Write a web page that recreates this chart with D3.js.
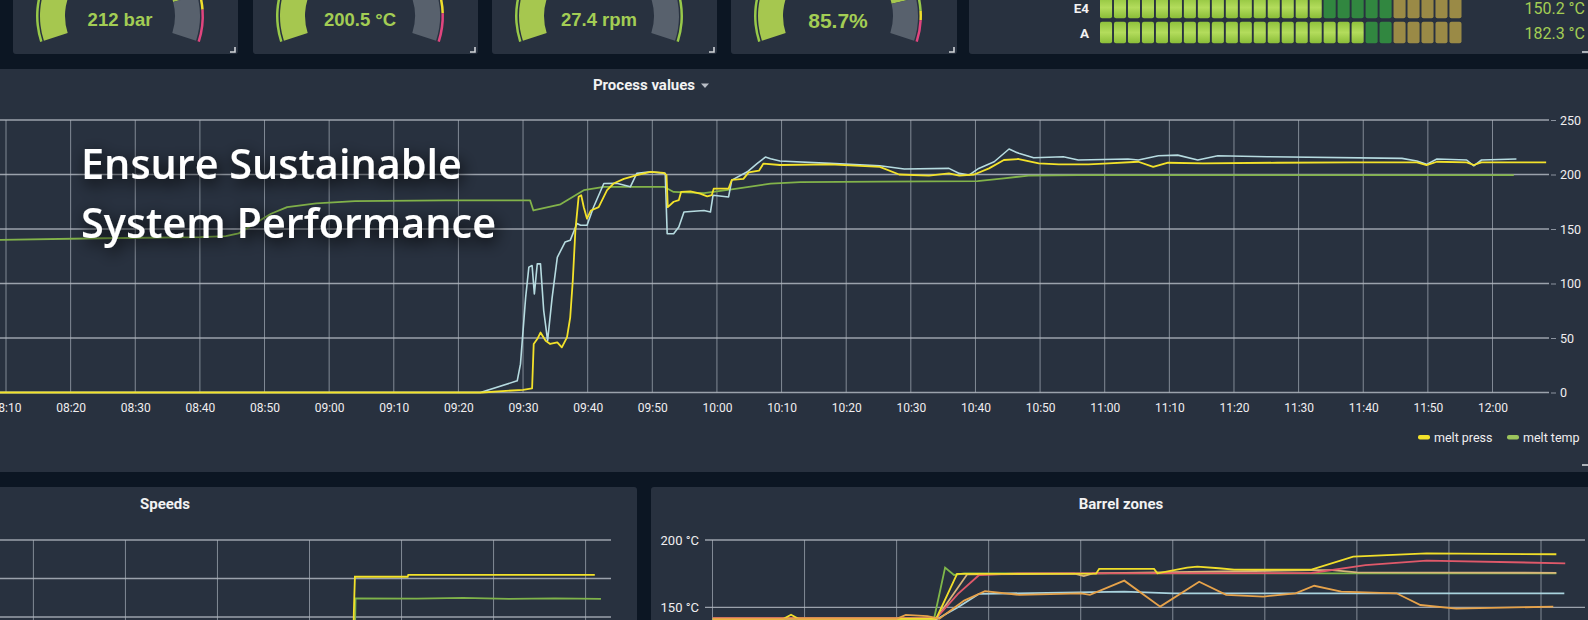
<!DOCTYPE html>
<html><head><meta charset="utf-8">
<script src="https://cdn.jsdelivr.net/npm/d3@7"></script>
<style>
html,body{margin:0;padding:0;background:#0c1623;overflow:hidden;}
svg{display:block;font-family:Roboto,"Liberation Sans",sans-serif;}
</style></head><body>
<svg id="c" width="1588" height="620"></svg>
<script>
// ---------------- DATA ----------------
// Gauges (top row)
const gaugeLabels = ["212 bar", "200.5 °C", "27.4 rpm", "85.7%"];
const gaugeValues = [212, 200.5, 27.4, 85.7];
const gaugeMax    = [250, 250, 40, 100];
const gaugeWarn   = [215, 205, 40, 90];
const gaugeAlarm  = [224, 227, 40, 93];

// Segment bar gauges (top right)
const barRows   = ["E4", "A"];
const barValues = [150.2, 182.3];
const barLabels = ["150.2 °C", "182.3 °C"];
const barMax = 250, barWarn = 200, barSegments = 26;

// Process values chart
const processTitle = "Process values";
const mainYTicks = [0, 50, 100, 150, 200, 250];
const meltTemp = [["08:09",140],["08:25",141.5],["08:40",142.5],["08:44",143.5],["08:46",146],["08:48.5",155],
 ["08:51",164],["08:53.5",170],["08:58",173.5],["09:04",175.5],["09:18",176.3],["09:31.1",176.2],["09:31.6",167],
 ["09:35.8",172.7],["09:39.4",185.6],["09:42.5",188.7],["09:51.8",188.7],["09:53.3",184],["09:58",183],
 ["10:03.1",187],["10:08.3",191.7],["10:12.9",193],["10:25",193.5],["10:40.3",194],["10:44.4",196.5],
 ["10:48.2",199],["10:55.9",199.5],["12:03.3",199.5]];
const meltPress = [["08:09",0],["09:23.6",0],["09:30",2.5],["09:31.4",3.7],["09:31.65",44.5],["09:32.2",49],
 ["09:32.7",55],["09:33.5",47.5],["09:34.2",44.5],["09:35.3",46],["09:36",41.4],["09:36.8",50.6],["09:37.3",69],
 ["09:37.7",103],["09:38.1",149],["09:38.6",179.5],["09:39",181],["09:39.4",170],["09:39.9",159.5],["09:40.5",167],
 ["09:41.7",170],["09:43",185.6],["09:44",191.7],["09:45.6",196],["09:47.6",199.4],["09:49.7",202.5],["09:51.8",201.5],
 ["09:52.2",199.4],["09:52.4",170],["09:53.3",175],["09:54.1",176.5],["09:54.45",184],["09:55.9",184.5],["09:57.4",182.5],
 ["09:58.5",180],["09:59.2",181],["09:59.5",187],["10:01.8",187],["10:02.3",195],["10:04.1",196],["10:04.9",202],
 ["10:06.5",203.5],["10:07.2",210],["10:09.75",208.7],["10:17.5",209.3],["10:25.2",207],["10:28.2",200],["10:32.8",198.9],
 ["10:35.9",201],["10:37.5",199],["10:39.8",200],["10:42.1",205.6],["10:44.4",213.3],["10:46.7",214.2],["10:49.8",210.2],
 ["10:52.9",209.3],["10:57.5",209.3],["11:00.6",210.2],["11:05.2",211.7],["11:07.5",207],["11:09.8",210.8],["11:15.2",210.2],
 ["11:26.7",210.8],["11:38.3",211.1],["11:48.3",211.1],["11:49.8",208.7],["11:51.4",211.7],["11:56",211.1],["11:57.1",208.7],
 ["11:58.3",211.1],["12:08.3",211.1]];
const pressRef = [["08:09",0],["09:23.4",0],["09:29.1",10.7],["09:29.6",26],["09:30.4",87],["09:30.9",115],["09:31.4",116.5],
 ["09:31.75",90.5],["09:32.2",118],["09:32.7",118],["09:33.2",75],["09:33.8",47.5],["09:34.5",87],["09:35.3",124],
 ["09:36.5",138],["09:37.3",139.6],["09:38.35",155],["09:38.9",153.4],["09:39.9",153.4],["09:40.9",170],["09:42.5",191.7],
 ["09:44.5",192],["09:46.6",188.7],["09:47.6",201],["09:49.7",202.5],["09:52",201],["09:52.3",145.7],["09:53.3",145.7],
 ["09:54.1",151.8],["09:54.9",165.6],["09:58",167],["09:59",165.6],["09:59.4",181],["10:01.8",179.4],["10:02.3",194.8],
 ["10:04.7",202.5],["10:06.2",210],["10:07.5",216],["10:08.3",214.5],["10:09.75",212.4],["10:17.5",210.2],["10:25.2",208],
 ["10:29",205],["10:35.9",205.6],["10:37.5",201],["10:39",199.5],["10:40.5",205.6],["10:42.9",211.7],["10:45.2",223.4],
 ["10:46.7",219.4],["10:49",215.4],["10:53.6",216.3],["10:55.9",213.3],["11:03.6",214.2],["11:05.2",213.3],["11:08.3",217.2],
 ["11:11.3",217.8],["11:14.4",213.3],["11:17.5",217.2],["11:25.2",216.3],["11:46",214.8],["11:48.3",212.4],["11:49.8",209.3],
 ["11:51.4",214.2],["11:56",213.3],["11:57.1",208],["11:58.3",213.3],["12:03.7",214.2]];
const legendNames = ["melt press", "melt temp"];

// Speeds chart
const speedsTitle = "Speeds";
const speedTicks = [20, 40, 60];
const speedYellow = [["05:30",0],["09:28.5",0],["09:28.9",22],["09:29.6",40.9],["10:04",40.9],["10:04.4",41.9],["12:06",41.9]];
const speedGreen  = [["05:30",0],["09:29.4",0],["09:30",29.7],["10:10",29.5],["10:40",29.9],["11:10",29.4],["11:40",29.7],["12:10",29.4]];

// Barrel zones chart
const barrelTitle = "Barrel zones";
const barrelTicks = [150, 200];
const zoneGreen  = [["07:30",141.5],["08:42.2",141.5],["08:45.8",179.5],["08:48.7",174],["08:52",175.2],["12:05",175.2]];
const zoneYellow = [["07:30",141.3],["07:53",141.3],["07:55.6",144.5],["07:58",141.5],["08:42.9",141.5],["08:49.7",174.8],
 ["09:35",175],["09:36",178.5],["09:53.9",178.5],["09:55",175.2],["10:04.7",179.5],["10:08",180.2],["10:15",179],["10:20",178],
 ["10:45.2",178],["10:58.8",187.6],["11:22.7",190],["12:05",189.4]];
const zoneRed    = [["07:30",142],["08:42.9",142],["08:50",160],["08:56.9",174],["09:10",175.2],["10:45.2",175.5],
 ["11:02.8",181.4],["11:22.7",184.7],["12:07.9",182.7]];
const zoneCyan   = [["07:30",141],["08:42.9",141],["08:50",150],["08:56.9",160],["09:44.2",161.6],["10:00",160.4],["12:07.6",160.4]];
const zoneOrange = [["07:30",141.5],["08:30",141.5],["08:33",144.3],["08:40",143.5],["08:43.9",141.5],["08:52",155],
 ["08:58.8",162],["09:10",159.2],["09:30.1",160.4],["09:33",159.2],["09:44.2",169.8],["09:55.9",150.5],["10:08.6",169],
 ["10:17.4",159.2],["10:29.5",158],["10:40",160.4],["10:46.1",166],["10:54.9",161.6],["11:12.9",160.4],["11:20.7",151.7],
 ["11:32.4",149],["12:04",150.5]];
const zoneTan    = [["07:30",141.8],["08:43",141.8],["08:53",174.5],["09:28",175],["09:31",173.2],["09:34",175.2],
 ["10:45",177.6],["10:52",177.6],["11:00",176],["12:05",175.6]];

const overlayLines = ["Ensure Sustainable", "System Performance"];

// ---------------- HELPERS ----------------
const T = s => { const [h, m] = s.split(":"); return new Date(2021, 0, 1, +h, 0, 0, Math.round(parseFloat(m) * 60000)); };
const C = { panel: "#28313f", grid: "#98a0ab", text: "#f0eef0", green: "#a3cd54" };
const svg = d3.select("#c");
const defs = svg.append("defs");

// ---------------- PANELS ----------------
[[13,225],[253,225],[492,225],[731,226],[969,640]].forEach(([x,w]) =>
  svg.append("rect").attr("x",x).attr("y",-10).attr("width",w).attr("height",64).attr("rx",3).attr("fill",C.panel));
svg.append("rect").attr("x",-5).attr("y",69).attr("width",1600).attr("height",403).attr("rx",3).attr("fill",C.panel);
svg.append("rect").attr("x",-5).attr("y",487).attr("width",642).attr("height",200).attr("rx",3).attr("fill",C.panel);
svg.append("rect").attr("x",651).attr("y",487).attr("width",960).attr("height",200).attr("rx",3).attr("fill",C.panel);

// resize handles
[238,478,717,957].forEach(x1 => svg.append("path").attr("d",`M${x1-8},52H${x1-3}V47`).attr("fill","none").attr("stroke","#cfd3d8").attr("stroke-width",1.6));
svg.append("path").attr("d","M1582,52H1588").attr("stroke","#cfd3d8").attr("stroke-width",1.6);
svg.append("path").attr("d","M1582,465H1588").attr("stroke","#cfd3d8").attr("stroke-width",1.6);

// ---------------- GAUGES ----------------
const gaugePanelX = [13, 253, 492, 731];
gaugeLabels.forEach((lab, i) => {
  const g = svg.append("g").attr("transform", `translate(${gaugePanelX[i]+107},16)`);
  const a = d3.scaleLinear().domain([0, gaugeMax[i]]).range([-108*Math.PI/180, 108*Math.PI/180]).clamp(true);
  const thick = d3.arc().innerRadius(55).outerRadius(80);
  g.append("path").attr("d", thick({startAngle:a(0), endAngle:a(gaugeValues[i])})).attr("fill", "#a6c74f");
  g.append("path").attr("d", thick({startAngle:a(gaugeValues[i]), endAngle:a(gaugeMax[i])})).attr("fill", "#58616d");
  const thin = d3.arc().innerRadius(81.5).outerRadius(84);
  [[0, gaugeWarn[i], "#98c94a"], [gaugeWarn[i], gaugeAlarm[i], "#f0de2c"], [gaugeAlarm[i], gaugeMax[i], "#e0457e"]]
    .filter(b => b[1] > b[0])
    .forEach(b => g.append("path").attr("d", thin({startAngle:a(b[0]), endAngle:a(b[1])})).attr("fill", b[2]));
  g.append("text").attr("y", i === 3 ? 12 : 10).attr("text-anchor","middle")
    .attr("font-family","'Liberation Sans',Arial,sans-serif").attr("font-weight","bold")
    .attr("font-size", i === 3 ? 21 : 18.5).attr("fill", C.green).text(lab);
});

// ---------------- SEGMENT BARS ----------------
const grad = defs.append("linearGradient").attr("id","segG").attr("x1",0).attr("x2",0).attr("y1",0).attr("y2",1);
grad.append("stop").attr("offset","0%").attr("stop-color","#8fc23c");
grad.append("stop").attr("offset","50%").attr("stop-color","#b3dc5c");
grad.append("stop").attr("offset","100%").attr("stop-color","#8abd38");
const segX = d3.scaleBand().domain(d3.range(barSegments)).range([1100, 1461.5]).paddingInner(0.137);
const rowY = d3.scaleBand().domain(barRows).range([-3.3, 43.3]).paddingInner(0.136);
const segStep = barMax / barSegments;
barRows.forEach((r, ri) => {
  svg.selectAll(null).data(d3.range(barSegments)).join("rect")
    .attr("x", d => segX(d)).attr("y", rowY(r)).attr("width", segX.bandwidth()).attr("height", rowY.bandwidth())
    .attr("rx", 2)
    .attr("fill", d => (d + 0.5) * segStep <= barValues[ri] ? "url(#segG)" : (d * segStep >= barWarn ? "#9a8a46" : "#318740"));
  svg.append("text").attr("x", 1089).attr("y", rowY(r) + rowY.bandwidth()/2 + 5).attr("text-anchor","end")
    .attr("font-weight","bold").attr("font-size",13.5).attr("fill","#f2f2f2").text(r);
  svg.append("text").attr("x", 1585).attr("y", rowY(r) + rowY.bandwidth()/2 + 6).attr("text-anchor","end")
    .attr("font-size",16).attr("fill",C.green).text(barLabels[ri]);
});

// ---------------- PROCESS VALUES ----------------
const xMain = d3.scaleTime().domain([T("08:10"), T("12:00")]).range([6, 1492.5]);
const yMain = d3.scaleLinear().domain([0, 250]).range([392.5, 120]);
const mainTicks = d3.timeMinute.every(10).range(T("08:10"), T("12:00.5"));
const gm = svg.append("g");
gm.selectAll(null).data(mainTicks).join("line")
  .attr("x1", d => xMain(d)).attr("x2", d => xMain(d)).attr("y1", yMain(250)).attr("y2", yMain(0))
  .attr("stroke", C.grid).attr("stroke-width", 1).attr("opacity", 0.8);
gm.selectAll(null).data(mainYTicks).join("line")
  .attr("x1", 0).attr("x2", 1549).attr("y1", d => yMain(d)).attr("y2", d => yMain(d))
  .attr("stroke", "#b0b6bf").attr("stroke-width", 1.3).attr("opacity", 0.85);

const xAxis = svg.append("g").attr("transform", `translate(0,${yMain(0)})`)
  .call(d3.axisBottom(xMain).tickValues(mainTicks).tickFormat(d3.timeFormat("%H:%M")).tickSize(0).tickPadding(11));
xAxis.select(".domain").remove();
xAxis.selectAll("text").attr("font-size", 12).attr("fill", C.text).attr("font-family", "Roboto,sans-serif");

const yAxis = svg.append("g").attr("transform", "translate(1551,0)")
  .call(d3.axisRight(yMain).tickValues(mainYTicks).tickSize(5).tickPadding(4));
yAxis.select(".domain").remove();
yAxis.selectAll("line").attr("stroke", "#8c94a0");
yAxis.selectAll("text").attr("font-size", 12.5).attr("fill", C.text).attr("font-family", "Roboto,sans-serif");

defs.append("clipPath").attr("id","clipMain").append("rect").attr("x",0).attr("y",70).attr("width",1549).attr("height",330);
const lineMain = d3.line().x(d => xMain(T(d[0]))).y(d => yMain(d[1]));
const lm = svg.append("g").attr("clip-path","url(#clipMain)").attr("fill","none").attr("stroke-linejoin","round");
lm.append("path").attr("d", lineMain(meltTemp)).attr("stroke", "#82b34a").attr("stroke-width", 1.8);
lm.append("path").attr("d", lineMain(pressRef)).attr("stroke", "#b6dbe0").attr("stroke-width", 1.6);
lm.append("path").attr("d", lineMain(meltPress)).attr("stroke", "#f3e22a").attr("stroke-width", 1.8);

svg.append("text").attr("x", 644).attr("y", 90).attr("text-anchor","middle").attr("font-weight","bold")
  .attr("font-size", 15).attr("fill", "#f2f2f2").text(processTitle);
svg.append("path").attr("d","M701,83.5h8l-4,4.5z").attr("fill","#b9bec6");

// legend
const legColors = ["#f3e22a", "#9cc45c"];
const legX = [1418, 1507];
legendNames.forEach((n, i) => {
  svg.append("rect").attr("x", legX[i]).attr("y", 435).attr("width", 12).attr("height", 4.5).attr("rx", 2).attr("fill", legColors[i]);
  svg.append("text").attr("x", legX[i] + 16).attr("y", 441.5).attr("font-size", 12.5)
    .attr("fill", C.text).text(n);
});

// ---------------- SPEEDS ----------------
const xSpd = d3.scaleTime().domain([T("06:00"), T("12:00")]).range([33.4, 585.6]);
const ySpd = d3.scaleLinear().domain([20, 60]).range([617, 540]);
const spdHours = d3.timeHour.every(1).range(T("06:00"), T("12:00.5"));
svg.selectAll(null).data(spdHours).join("line")
  .attr("x1", d => xSpd(d)).attr("x2", d => xSpd(d)).attr("y1", ySpd(60)).attr("y2", 625)
  .attr("stroke", C.grid).attr("opacity", 0.8);
svg.selectAll(null).data(speedTicks).join("line")
  .attr("x1", 0).attr("x2", 611).attr("y1", d => ySpd(d)).attr("y2", d => ySpd(d))
  .attr("stroke", "#b0b6bf").attr("stroke-width", 1.3).attr("opacity", 0.85);
defs.append("clipPath").attr("id","clipSpd").append("rect").attr("x",0).attr("y",520).attr("width",611).attr("height",110);
const lineSpd = d3.line().x(d => xSpd(T(d[0]))).y(d => ySpd(d[1]));
const ls = svg.append("g").attr("clip-path","url(#clipSpd)").attr("fill","none");
ls.append("path").attr("d", lineSpd(speedGreen)).attr("stroke", "#7fb34a").attr("stroke-width", 1.8);
ls.append("path").attr("d", lineSpd(speedYellow)).attr("stroke", "#f3e22a").attr("stroke-width", 1.8);
svg.append("text").attr("x", 165).attr("y", 509).attr("text-anchor","middle").attr("font-weight","bold")
  .attr("font-size", 15).attr("fill", "#f2f2f2").text(speedsTitle);

// ---------------- BARREL ZONES ----------------
const xBar = d3.scaleTime().domain([T("07:30"), T("12:00")]).range([712.5, 1541]);
const yBar = d3.scaleLinear().domain([150, 200]).range([607.3, 540]);
const barTimes = d3.timeMinute.every(30).range(T("07:30"), T("12:00.5"));
svg.selectAll(null).data(barTimes).join("line")
  .attr("x1", d => xBar(d)).attr("x2", d => xBar(d)).attr("y1", yBar(200)).attr("y2", 625)
  .attr("stroke", C.grid).attr("opacity", 0.8);
svg.selectAll(null).data(barrelTicks).join("line")
  .attr("x1", 705).attr("x2", 1585).attr("y1", d => yBar(d)).attr("y2", d => yBar(d))
  .attr("stroke", "#b0b6bf").attr("stroke-width", 1.3).attr("opacity", 0.85);
svg.selectAll(null).data(barrelTicks).join("text")
  .attr("x", 699).attr("y", d => yBar(d) + 4.5).attr("text-anchor","end").attr("font-size", 13)
  .attr("fill", C.text).text(d => d + " °C");
defs.append("clipPath").attr("id","clipBar").append("rect").attr("x",712.5).attr("y",520).attr("width",873).attr("height",110);
const lineBar = d3.line().x(d => xBar(T(d[0]))).y(d => yBar(d[1]));
const lb = svg.append("g").attr("clip-path","url(#clipBar)").attr("fill","none").attr("stroke-width",1.8);
[[zoneCyan,"#a9d3de"],[zoneGreen,"#7fb74a"],[zoneTan,"#d8b47a"],[zoneRed,"#e0596a"],[zoneYellow,"#f0de2a"],[zoneOrange,"#e6a24a"]]
  .forEach(([d, c]) => lb.append("path").attr("d", lineBar(d)).attr("stroke", c));
svg.append("text").attr("x", 1121).attr("y", 509).attr("text-anchor","middle").attr("font-weight","bold")
  .attr("font-size", 15).attr("fill", "#f2f2f2").text(barrelTitle);

// ---------------- OVERLAY HEADLINE ----------------
const f = defs.append("filter").attr("id","shadow").attr("x","-20%").attr("y","-60%").attr("width","140%").attr("height","220%");
f.append("feDropShadow").attr("dx",3).attr("dy",5).attr("stdDeviation",8).attr("flood-color","#000").attr("flood-opacity",1);
const ov = svg.append("g").attr("filter","url(#shadow)");
const ovBase = [179, 238];
const ovTexts = overlayLines.map((t, i) => ov.append("text").attr("x", 81).attr("y", ovBase[i])
  .attr("font-family","'Open Sans','Noto Sans',sans-serif").attr("font-weight",600).attr("font-size",38)
  .attr("fill","#ffffff").text(t));
const w0 = ovTexts[0].node().getComputedTextLength();
const fs = 38 * 381 / w0;
ovTexts.forEach(t => t.attr("font-size", fs));
</script>
</body></html>
